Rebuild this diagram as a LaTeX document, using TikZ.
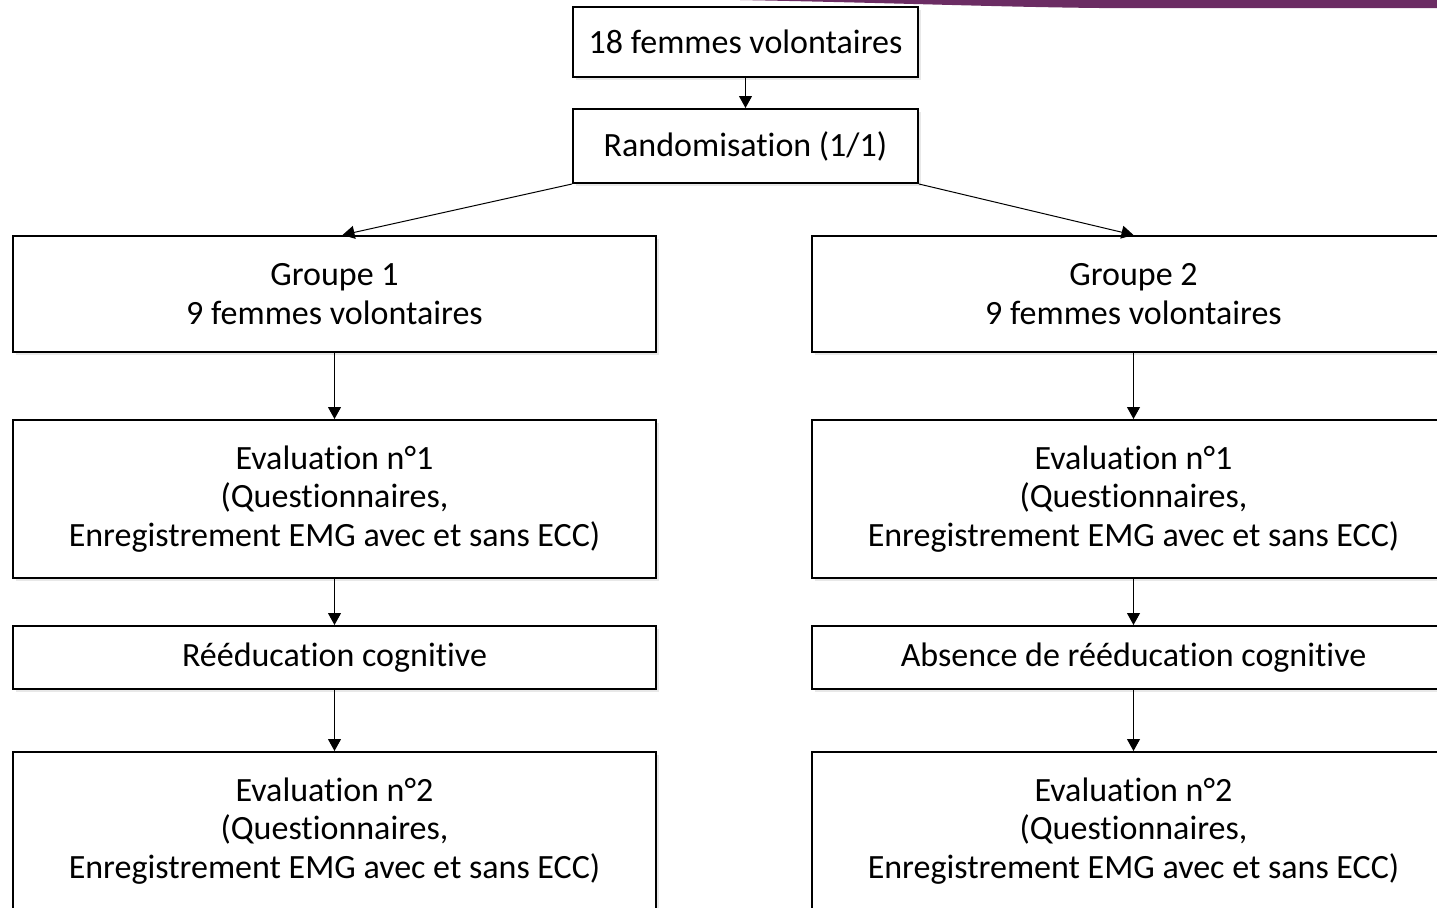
\documentclass[tikz,border=0pt]{standalone}
\usepackage{fontspec}
\setmainfont[Ligatures=NoCommon]{Carlito}
\usepackage{xcolor}
\usepackage{tikz}
\usetikzlibrary{arrows.meta, shadows}

\definecolor{bandpurple}{HTML}{6B2C63}

\begin{document}
\begin{tikzpicture}[
    x=0.5pt, y=-0.5pt,
    box/.style={rectangle, draw, line width=1pt, fill=white, align=center, inner sep=0pt,
        font=\fontsize{17}{19.3}\selectfont,
        drop shadow={shadow xshift=1.5pt, shadow yshift=-1.5pt, opacity=0.18}},
    wide/.style={box, minimum width=321.5pt},
    arrow/.style={-{Triangle[width=6.5pt, length=6pt]}, line width=0.5pt}
]
\clip (0,0) rectangle (1437,907);

% Top band
\fill[bandpurple] (740,0) .. controls (900,3) and (1000,7) .. (1100,8) -- (1437,8) -- (1437,0) -- cycle;

% Entry
\node[box, minimum width=172.5pt, minimum height=35pt] (volont) at (745.5,42) {18 femmes volontaires};
\node[box, minimum width=172.5pt, minimum height=37pt] (rando) at (745.5,146) {Randomisation (1/1)};

% Groupe 1
\node[wide, minimum height=58pt] (grpA) at (334.5,294) {Groupe 1\\9 femmes volontaires};
\node[wide, minimum height=79pt] (evalA) at (334.5,499) {Evaluation n°1\\(Questionnaires,\\Enregistrement EMG avec et sans ECC)};
\node[wide, minimum height=31.5pt] (reedA) at (334.5,657.5) {Rééducation cognitive};
\node[wide, minimum height=79pt] (evalAA) at (334.5,831) {Evaluation n°2\\(Questionnaires,\\Enregistrement EMG avec et sans ECC)};

% Groupe 2
\node[wide, minimum height=58pt] (grpB) at (1133.5,294) {Groupe 2\\9 femmes volontaires};
\node[wide, minimum height=79pt] (evalB) at (1133.5,499) {Evaluation n°1\\(Questionnaires,\\Enregistrement EMG avec et sans ECC)};
\node[wide, minimum height=31.5pt] (reedB) at (1133.5,657.5) {Absence de rééducation cognitive};
\node[wide, minimum height=79pt] (evalBB) at (1133.5,831) {Evaluation n°2\\(Questionnaires,\\Enregistrement EMG avec et sans ECC)};

% Arrows
\draw[arrow] (volont) -- (rando);
\draw[arrow] (rando.south west) -- ([xshift=4pt]grpA.north);
\draw[arrow] (rando.south east) -- (grpB.north);
\draw[arrow] (grpA) -- (evalA);
\draw[arrow] (evalA) -- (reedA);
\draw[arrow] (reedA) -- (evalAA);
\draw[arrow] (grpB) -- (evalB);
\draw[arrow] (evalB) -- (reedB);
\draw[arrow] (reedB) -- (evalBB);

\end{tikzpicture}
\end{document}
